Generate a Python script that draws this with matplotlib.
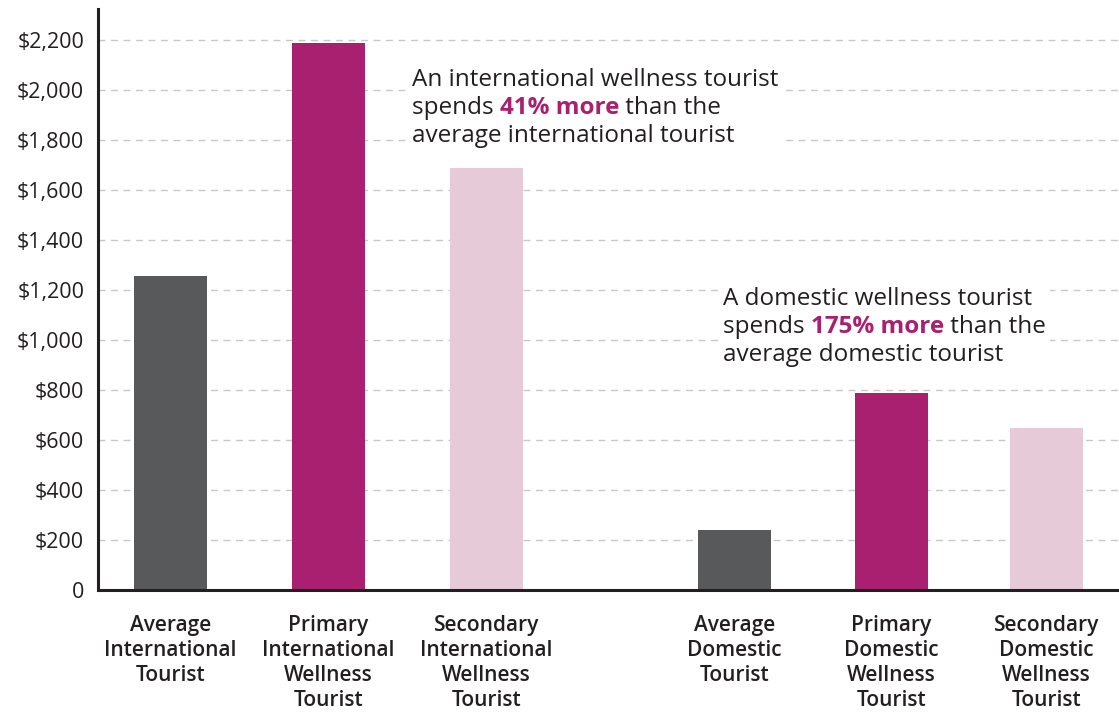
import matplotlib.pyplot as plt
from matplotlib.offsetbox import TextArea, HPacker, VPacker, AnnotationBbox

# Data
categories = [
    "Average\nInternational\nTourist",
    "Primary\nInternational\nWellness\nTourist",
    "Secondary\nInternational\nWellness\nTourist",
    "Average\nDomestic\nTourist",
    "Primary\nDomestic\nWellness\nTourist",
    "Secondary\nDomestic\nWellness\nTourist",
]
spending = [1255, 2190, 1690, 240, 790, 650]
positions = [0, 1, 2, 3.57, 4.56, 5.54]
colors = ["#58595b", "#a92070", "#e6cad8", "#58595b", "#a92070", "#e6cad8"]
yticks = list(range(0, 2201, 200))
ytick_labels = ["0"] + [f"${v:,}" for v in yticks[1:]]

plt.rcParams['font.family'] = ['Open Sans', 'DejaVu Sans']
text_col = "#231f20"
accent = "#a92070"

fig = plt.figure(figsize=(11.19, 7.13), dpi=100)
ax = fig.add_axes([0.0876, 0.1725, 0.9124, 0.8145])

ax.bar(positions, spending, width=0.46, color=colors, zorder=3)

ax.set_xlim(-0.456, 6.0)
ax.set_ylim(0, 2324)
ax.set_yticks(yticks)
ax.set_yticklabels(ytick_labels, fontsize=15.5, color=text_col)
ax.set_xticks(positions)
ax.set_xticklabels(categories, fontsize=15, fontweight='semibold', color=text_col,
                   linespacing=1.25, va='top')
ax.tick_params(axis='both', length=0)
ax.tick_params(axis='x', pad=18)
ax.tick_params(axis='y', pad=10)

ax.grid(axis='y', color='#c8c8c8', linestyle=(0, (5, 4)), linewidth=1, zorder=0)
ax.set_axisbelow(True)
for s in ['top', 'right']:
    ax.spines[s].set_visible(False)
for s in ['left', 'bottom']:
    ax.spines[s].set_color(text_col)
    ax.spines[s].set_linewidth(2.2)
    ax.spines[s].set_zorder(4)


# Annotations with a bold coloured part
def note(x, y, line1, pre, bold, post, line3):
    kw = dict(fontsize=17.5, color=text_col)
    l1 = TextArea(line1, textprops=kw)
    l2 = HPacker(children=[TextArea(pre, textprops=kw),
                           TextArea(bold, textprops=dict(fontsize=17.5, color=accent, fontweight='bold')),
                           TextArea(post, textprops=kw)], pad=0, sep=0)
    l3 = TextArea(line3, textprops=kw)
    box = VPacker(children=[l1, l2, l3], align='left', pad=0, sep=3)
    ab = AnnotationBbox(box, (x, y), xycoords='data', box_alignment=(0, 1),
                        frameon=True, pad=0.3, bboxprops=dict(facecolor='white', edgecolor='none'),
                        zorder=5)
    ax.add_artist(ab)


note(1.53, 2090, "An international wellness tourist", "spends ", "41% more", " than the",
     "average international tourist")
note(3.495, 1212, "A domestic wellness tourist", "spends ", "175% more", " than the",
     "average domestic tourist")

fig.savefig("out.png", dpi=100)
